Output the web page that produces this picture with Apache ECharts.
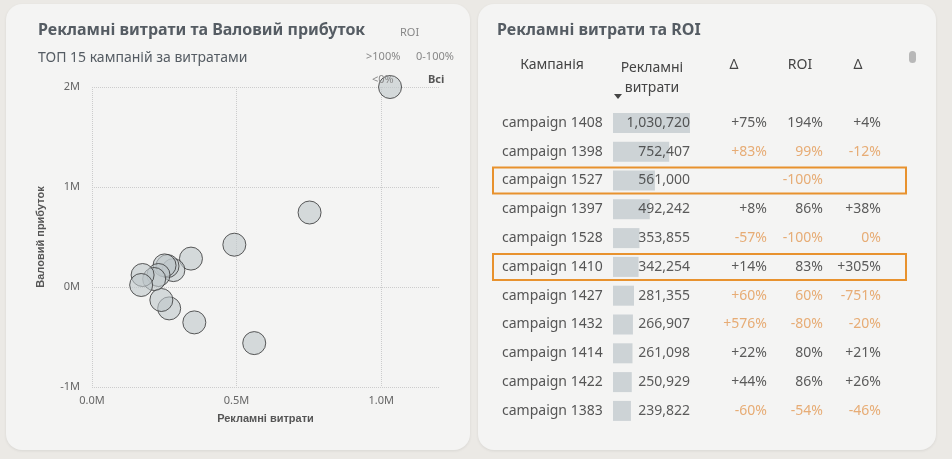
<!DOCTYPE html>
<html><head><meta charset="utf-8">
<script src="https://cdn.jsdelivr.net/npm/echarts@6/dist/echarts.min.js"></script>
<style>
html,body{margin:0;padding:0;background:#ebe9e5;width:952px;height:459px;overflow:hidden;font-family:"Noto Sans",sans-serif}
.card{position:absolute;background:#f4f4f3;border-radius:16px;box-shadow:0 1px 3px rgba(0,0,0,0.08)}
#c{position:absolute;left:0;top:0;width:952px;height:459px}
#sb{position:absolute;left:909px;top:51px;width:7px;height:12px;border-radius:4px;background:#b8b8b8}
</style></head><body>
<div class="card" style="left:6px;top:4px;width:464px;height:446px"></div>
<div class="card" style="left:478px;top:4px;width:458px;height:446px"></div>
<div id="sb"></div>
<div id="c"></div>
<script>
// Table data
const campaigns = ['campaign 1408','campaign 1398','campaign 1527','campaign 1397','campaign 1528','campaign 1410','campaign 1427','campaign 1432','campaign 1414','campaign 1422','campaign 1383'];
const adSpend = [1030720,752407,561000,492242,353855,342254,281355,266907,261098,250929,239822];
const spendDelta = ['+75%','+83%','','+8%','-57%','+14%','+60%','+576%','+22%','+44%','-60%'];
const roiText = ['194%','99%','-100%','86%','-100%','83%','60%','-80%','80%','86%','-54%'];
const roiDelta = ['+4%','-12%','','+38%','0%','+305%','-751%','-20%','+21%','+26%','-46%'];
const orangeRow = [0,1,0,0,1,0,1,1,0,0,1];
const orangeRoi = [0,1,1,0,1,0,1,1,0,0,1];
const boxedRows = ['campaign 1527','campaign 1410'];
// Scatter data (top 15 campaigns)
const scatterSpend = [1030720,752407,561000,492242,353855,342254,281355,266907,261098,250929,239822,230000,215000,175000,170000];
const scatterProfit = [2000000,745000,-561000,423000,-354000,284000,169000,-214000,209000,216000,-130000,120000,80000,120000,20000];

const ORANGE='#e39a55', DARK='#333';
const chart = echarts.init(document.getElementById('c'));
const txt = (x,y,t,o)=>({type:'text',x,y,z:100,style:Object.assign({text:t,fill:'#555c63',font:'14px "Noto Sans"'},o||{})});
const cellData = (col,arr,colorFn)=>campaigns.map((c,i)=>({value:[col,c],label:{formatter:arr[i],color:colorFn(i)}}));
chart.setOption({
  animation:false,
  grid:[
    {left:92,top:87,width:347,height:300},
    {left:613,top:108.5,width:77,height:316.8},
    {left:600,top:108.5,width:300,height:316.8}
  ],
  xAxis:[
    {gridIndex:0,type:'value',min:0,max:1200000,interval:500000,
     axisLine:{show:false},axisTick:{show:false},
     axisLabel:{showMaxLabel:false,color:'#666',fontSize:11,fontFamily:'Noto Sans',margin:8,formatter:v=>(v/1e6).toFixed(1)+'M'},
     splitLine:{showMaxLine:false,lineStyle:{type:'dotted',color:'#ccc'}},
     name:'Рекламні витрати',nameLocation:'middle',nameGap:26,nameTextStyle:{color:'#555',fontSize:11,fontWeight:'bold'}},
    {gridIndex:1,type:'value',min:0,max:1030720,show:false},
    {gridIndex:2,type:'value',min:0,max:300,show:false}
  ],
  yAxis:[
    {gridIndex:0,type:'value',min:-1000000,max:2000000,interval:1000000,
     axisLine:{show:false},axisTick:{show:false},
     axisLabel:{color:'#666',fontSize:11,fontFamily:'Noto Sans',margin:12,formatter:v=>(v/1e6)+'M'},
     splitLine:{lineStyle:{type:'dotted',color:'#ccc'}},
     name:'Валовий прибуток',nameLocation:'middle',nameGap:46,nameTextStyle:{color:'#555',fontSize:11,fontWeight:'bold'}},
    {gridIndex:1,type:'category',data:campaigns,inverse:true,axisLine:{show:false},axisTick:{show:false},
     axisLabel:{align:'left',margin:111,color:'#555',fontSize:14,fontFamily:'Noto Sans'}},
    {gridIndex:2,type:'category',data:campaigns,inverse:true,show:false}
  ],
  series:[
    {type:'scatter',xAxisIndex:0,yAxisIndex:0,symbolSize:23,
     itemStyle:{color:'rgba(190,198,202,0.75)',borderColor:'#333',borderWidth:1},
     data:scatterSpend.map((s,i)=>[s,scatterProfit[i]])},
    {type:'bar',xAxisIndex:1,yAxisIndex:1,barWidth:20,itemStyle:{color:'#cdd3d6'},data:adSpend},
    ...[[90,adSpend.map(v=>v.toLocaleString('en-US')),i=>DARK],
        [167,spendDelta,i=>orangeRow[i]?ORANGE:DARK],
        [223,roiText,i=>orangeRoi[i]?ORANGE:DARK],
        [281,roiDelta,i=>orangeRow[i]?ORANGE:DARK]].map(([col,arr,cf])=>({
      type:'scatter',xAxisIndex:2,yAxisIndex:2,symbolSize:0.1,silent:true,
      label:{show:true,position:'left',distance:0,fontSize:14,fontFamily:'Noto Sans'},
      data:cellData(col,arr,cf)}))
  ],
  graphic:[
    txt(38,22,'Рекламні витрати та Валовий прибуток',{font:'bold 16px "Noto Sans"'}),
    txt(38,51,'ТОП 15 кампаній за витратами',{font:'14px "Noto Sans"'}),
    txt(400,27,'ROI',{font:'11px "Noto Sans"',fill:'#888'}),
    txt(366,51,'>100%',{font:'11px "Noto Sans"',fill:'#888'}),
    txt(416,51,'0-100%',{font:'11px "Noto Sans"',fill:'#888'}),
    txt(372,74,'<0%',{font:'11px "Noto Sans"',fill:'#888'}),
    txt(428,74,'Всі',{font:'bold 11px "Noto Sans"',fill:'#555'}),
    txt(497,22,'Рекламні витрати та ROI',{font:'bold 16px "Noto Sans"'}),
    txt(552,58,'Кампанія',{align:'center',fill:'#444'}),
    txt(652,58,'Рекламні\nвитрати',{align:'center',fill:'#444',lineHeight:20}),
    txt(734,58,'Δ',{align:'center',fill:'#444'}),
    txt(800,58,'ROI',{align:'center',fill:'#444'}),
    txt(858,58,'Δ',{align:'center',fill:'#444'}),
    {type:'polygon',shape:{points:[[614,94],[622,94],[618,99]]},style:{fill:'#444'}}
  ]
});
// highlight boxes around selected rows, positioned via the axis scale
const boxes = boxedRows.map((c,i)=>{
  const y = chart.convertToPixel({yAxisIndex:1},c);
  return {id:'box'+i,type:'rect',shape:{x:493,y:y-13,width:413,height:26},style:{fill:'none',stroke:'#e8922e',lineWidth:2}};
});
chart.setOption({graphic:boxes});
</script></body></html>
